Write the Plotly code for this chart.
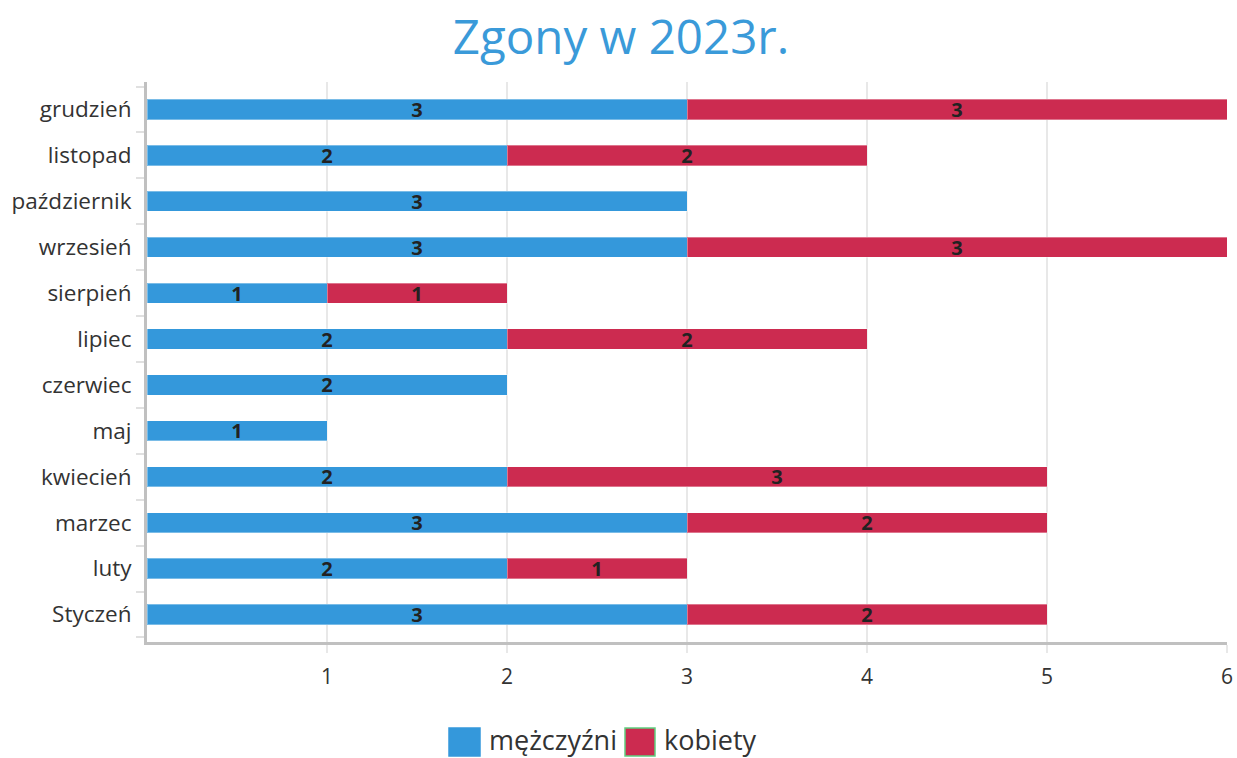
import plotly.graph_objects as go

months = ["Styczeń", "luty", "marzec", "kwiecień", "maj", "czerwiec", "lipiec",
          "sierpień", "wrzesień", "październik", "listopad", "grudzień"]
men = [3, 2, 3, 2, 1, 2, 2, 1, 3, 3, 2, 3]
women = [2, 1, 2, 3, 0, 0, 2, 1, 3, 0, 2, 3]
x_ticks = [1, 2, 3, 4, 5, 6]
series_names = ["mężczyźni", "kobiety"]
series_colors = ["#3498db", "#cc2b50"]

W, H = 1237, 758
# plot area in pixels
SL, SR, ST, SB = 147, 1227, 82, 642
PW, PH = SR - SL, SB - ST

def px(x):
    return (x - SL) / PW

def py(y):
    return (SB - y) / PH

def labels(vals):
    return [str(v) if v else "" for v in vals]

fig = go.Figure()
for name, vals, col in zip(series_names, [men, women], series_colors):
    fig.add_trace(go.Bar(
        y=months, x=vals, orientation="h", name=name,
        marker=dict(color=col, line=dict(width=1, color="rgba(255,255,255,0.35)")),
        text=labels(vals), textposition="inside", insidetextanchor="middle",
        textangle=0, constraintext="none",
        textfont=dict(family="Open Sans", size=20, color="#222", weight="bold"),
        width=0.44, showlegend=False,
    ))

# legend drawn manually (large swatches as in the reference)
legend_items = [
    (449, 480, 487, series_names[0], series_colors[0], series_colors[0]),
    (625, 655, 662, series_names[1], series_colors[1], "#5fcf7f"),
]
for x0, x1, tx, name, col, border in legend_items:
    fig.add_shape(type="rect", xref="paper", yref="paper",
                  x0=px(x0), x1=px(x1), y0=py(756), y1=py(728),
                  fillcolor=col, line=dict(color=border, width=1.5))
    fig.add_annotation(xref="paper", yref="paper", x=px(tx), y=py(739.5),
                       xanchor="left", yanchor="middle", showarrow=False,
                       text=name, font=dict(family="Open Sans", size=27, color="#333"))

fig.update_layout(
    barmode="stack",
    width=W, height=H,
    paper_bgcolor="white", plot_bgcolor="white",
    margin=dict(l=SL, r=W - SR, t=ST, b=H - SB),
    font=dict(family="Open Sans", size=22, color="#333"),
    title=dict(text="Zgony w 2023r.", x=px(621), xanchor="center",
               xref="paper", y=1 - 37 / H, yanchor="middle",
               font=dict(family="Open Sans", size=47.5, color="#3a9ad9")),
    showlegend=False,
    uniformtext=dict(minsize=18, mode="show"),
)
fig.update_xaxes(
    range=[0, 6], tickvals=x_ticks, showgrid=True, gridcolor="#e8e8e8", gridwidth=2,
    showline=True, linecolor="#c0c0c0", linewidth=3, zeroline=False,
    ticks="outside", ticklen=8, tickcolor="#e8e8e8", tickwidth=2,
    tickfont=dict(size=21, color="#333"), automargin=False, ticklabelstandoff=6,
    ticklabeloverflow="allow",
)
fig.update_yaxes(
    range=[-0.6, 11.6], showgrid=False, showline=True, linecolor="#c0c0c0", linewidth=3,
    ticks="outside", ticklen=8, tickcolor="#e0e0e0", tickwidth=2, tickson="boundaries",
    tickfont=dict(size=22.5, color="#333"), automargin=False, ticklabelstandoff=8,
)
fig.write_html("out.html", config={"displayModeBar": False},
               post_script="document.body.style.margin='0';document.body.style.overflow='hidden';")
